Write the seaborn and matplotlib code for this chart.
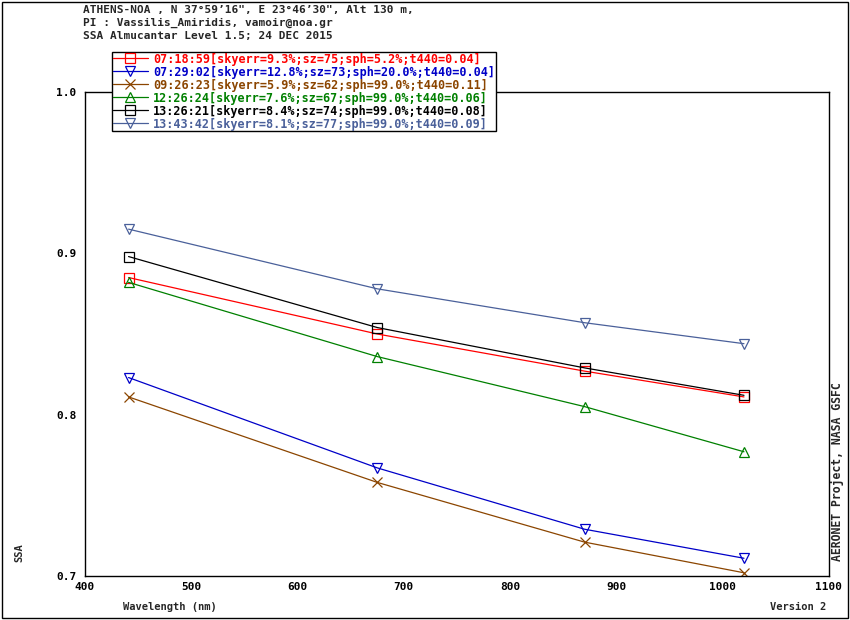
import pandas as pd
import seaborn as sns
import matplotlib.pyplot as plt
from matplotlib.patches import Rectangle

# AERONET almucantar SSA, Athens 24 Dec 2015
wavelengths = [441, 675, 870, 1020]

labels = [
    '07:18:59[skyerr=9.3%;sz=75;sph=5.2%;t440=0.04]',
    '07:29:02[skyerr=12.8%;sz=73;sph=20.0%;t440=0.04]',
    '09:26:23[skyerr=5.9%;sz=62;sph=99.0%;t440=0.11]',
    '12:26:24[skyerr=7.6%;sz=67;sph=99.0%;t440=0.06]',
    '13:26:21[skyerr=8.4%;sz=74;sph=99.0%;t440=0.08]',
    '13:43:42[skyerr=8.1%;sz=77;sph=99.0%;t440=0.09]',
]

ssa_0718 = [0.885, 0.850, 0.827, 0.811]
ssa_0729 = [0.823, 0.767, 0.729, 0.711]
ssa_0926 = [0.811, 0.758, 0.721, 0.702]
ssa_1226 = [0.882, 0.836, 0.805, 0.777]
ssa_1326 = [0.898, 0.854, 0.829, 0.812]
ssa_1343 = [0.915, 0.878, 0.857, 0.844]

series = [ssa_0718, ssa_0729, ssa_0926, ssa_1226, ssa_1326, ssa_1343]
colors = ['#ff0000', '#0000c8', '#8b4500', '#008000', '#000000', '#4a609a']
markers = ['s', 'v', 'x', '^', 's', 'v']

sns.set_style('white')
plt.rcParams['font.family'] = ['DejaVu Sans Mono']
plt.rcParams['font.weight'] = 'bold'

fig = plt.figure(figsize=(8.5, 6.2), dpi=100)
ax = fig.add_axes([85 / 850, 1 - 576 / 620, 744 / 850, 484 / 620])

for vals, lab, col, mk in zip(series, labels, colors, markers):
    df = pd.DataFrame({'Wavelength': wavelengths, 'SSA': vals})
    sns.lineplot(data=df, x='Wavelength', y='SSA', ax=ax, color=col,
                 marker=mk, markersize=6.5, markerfacecolor='none',
                 markeredgecolor=col, markeredgewidth=0.9, linewidth=0.9,
                 label=lab)

ax.set_xlim(400, 1100)
ax.set_ylim(0.7, 1.0)
ax.set_xticks([400, 500, 600, 700, 800, 900, 1000, 1100])
ax.set_yticks([0.7, 0.8, 0.9, 1.0])
ax.set_yticklabels(['0.7', '0.8', '0.9', '1.0'])
ax.set_xlabel('')
ax.set_ylabel('')
ax.tick_params(axis='x', direction='in', length=9.5, width=1, pad=4,
               labelsize=8, colors='black')
ax.tick_params(axis='y', direction='out', length=5, width=1, pad=1,
               labelsize=8, colors='black')
for sp in ax.spines.values():
    sp.set_color('black')
    sp.set_linewidth(1)

ax.get_legend().remove()
handles, labs = ax.get_legend_handles_labels()
leg = fig.legend(handles, labs, loc='upper left',
                 bbox_to_anchor=(112 / 850, 1 - 52 / 620), borderaxespad=0,
                 frameon=True, fancybox=False, edgecolor='black',
                 framealpha=1, fontsize=8.5, labelspacing=0.0,
                 handlelength=3.0, handletextpad=0.45, borderpad=0.05,
                 labelcolor='linecolor')
leg.get_frame().set_linewidth(1)

header = ['ATHENS-NOA , N 37\u00b059\u201916", E 23\u00b046\u201930", Alt 130 m,',
          'PI : Vassilis_Amiridis, vamoir@noa.gr',
          'SSA Almucantar Level 1.5; 24 DEC 2015']
for i, line in enumerate(header):
    fig.text(83 / 850, 1 - (10 + 13 * i) / 620, line, fontsize=8,
             fontweight='bold', va='center', ha='left')

fig.text(123 / 850, 1 - 607 / 620, 'Wavelength (nm)', fontsize=7.5,
         fontweight='bold', va='center', ha='left')
fig.text(826 / 850, 1 - 607 / 620, 'Version 2', fontsize=7.5,
         fontweight='bold', va='center', ha='right')
fig.text(19 / 850, 1 - 553 / 620, 'SSA', fontsize=7.5, fontweight='bold',
         rotation=90, va='center', ha='center')
fig.text(838 / 850, 1 - 472 / 620, 'AERONET Project, NASA GSFC',
         fontsize=8.3, fontweight='bold', rotation=90, va='center',
         ha='center')

fig.patches.append(Rectangle((2 / 850, 2 / 620), 846 / 850, 616 / 620,
                             transform=fig.transFigure, fill=False,
                             edgecolor='black', linewidth=1))

fig.savefig('out.png', dpi=100)
